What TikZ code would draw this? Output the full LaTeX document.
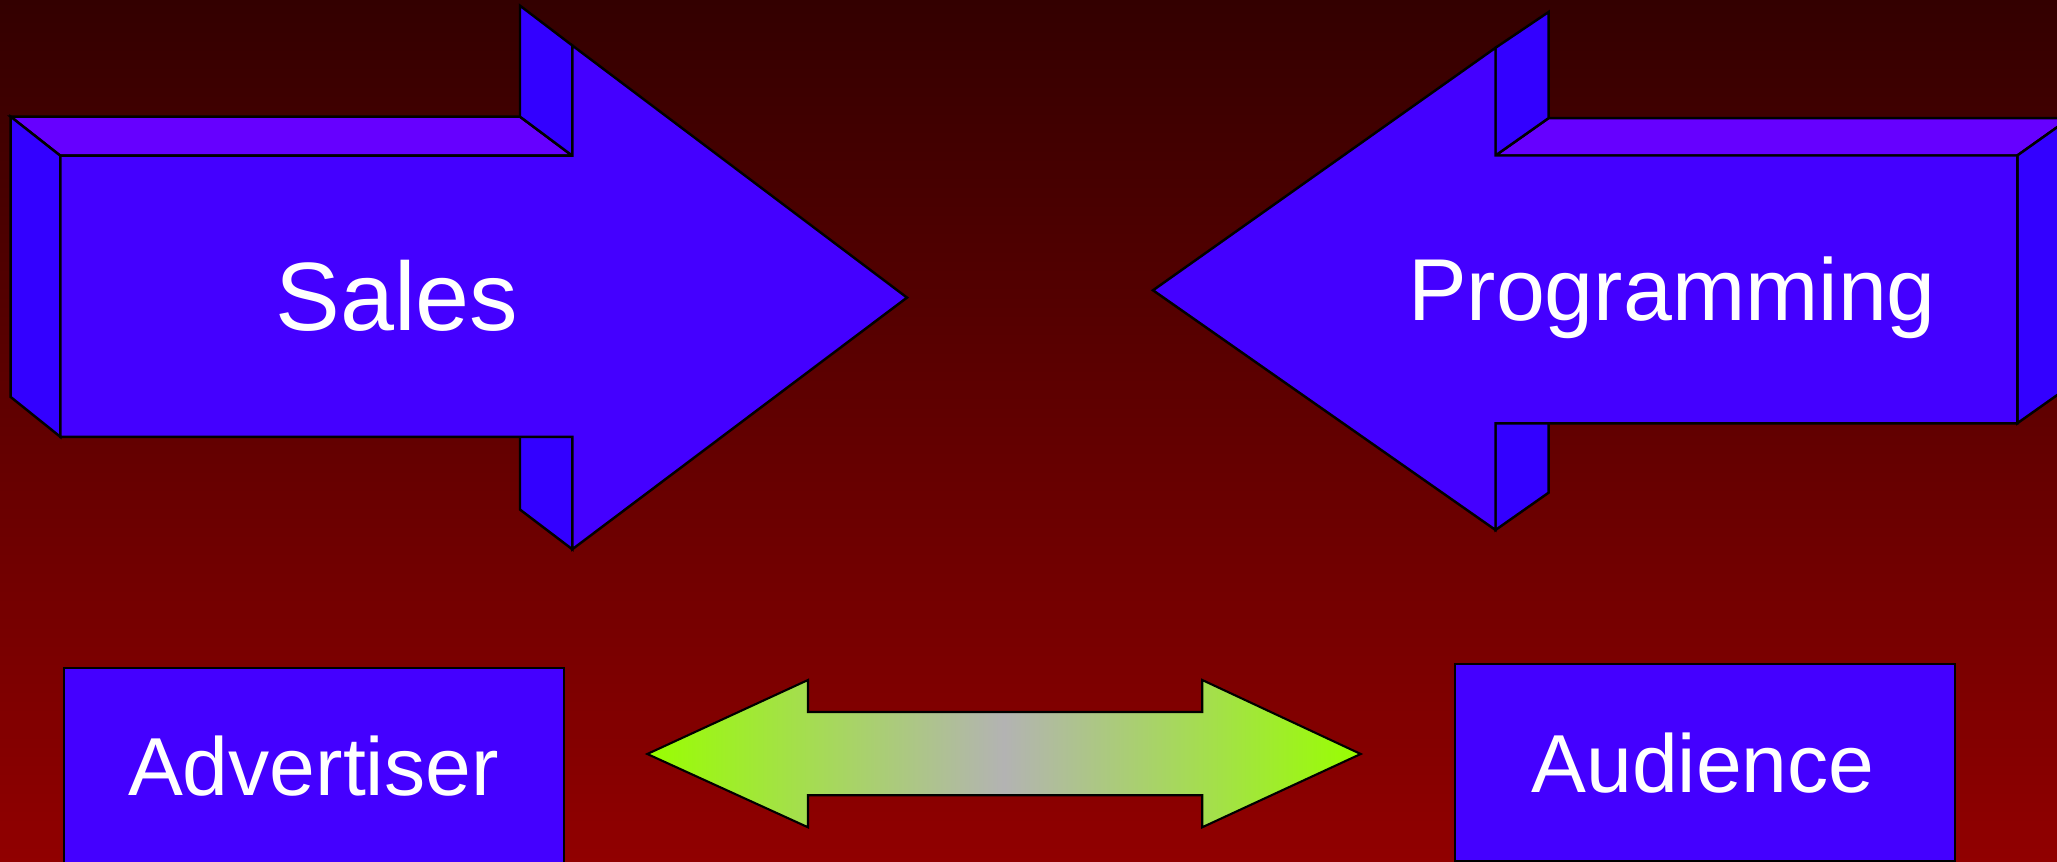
\documentclass[tikz,border=0pt]{standalone}
\usepackage{fontspec}
\setmainfont{Liberation Sans}

\definecolor{bgtop}{RGB}{51,0,0}
\definecolor{bgbottom}{RGB}{145,0,0}
\definecolor{facefront}{RGB}{68,0,255}
\definecolor{facetop}{RGB}{102,0,255}
\definecolor{faceside}{RGB}{51,0,255}
\definecolor{tipgreen}{RGB}{153,255,0}
\definecolor{midgray}{RGB}{179,179,179}

\begin{document}
\begin{tikzpicture}[x=0.01cm,y=-0.01cm,
  edge/.style={draw=black,line width=0.7pt,line join=miter},
  frontface/.style={edge,fill=facefront},
  topface/.style={edge,fill=facetop},
  sideface/.style={edge,fill=faceside},
  box/.style={draw=black,line width=0.6pt,fill=facefront,
    minimum width=5cm,minimum height=1.964cm,inner sep=0pt},
  label/.style={text=white,inner sep=0pt,anchor=base},
  bigfont/.style={font=\fontsize{27.6pt}{32pt}\selectfont},
  midfont/.style={font=\fontsize{25pt}{30pt}\selectfont},
  smallfont/.style={font=\fontsize{23.4pt}{28pt}\selectfont},
]
\useasboundingbox (0,0) rectangle (2057,862);
\clip (0,0) rectangle (2057,862);

% background
\shade[top color=bgtop,bottom color=bgbottom] (0,0) rectangle (2057,862);

% ---- Sales block arrow (pointing right, extruded up-left) ----
\path[topface]  (10.7,116.7) -- (520,116.7) -- (572.3,155.7) -- (60.3,155.7) -- cycle;
\path[sideface] (10.7,116.7) -- (60.3,155.7) -- (60.3,436.8) -- (10.7,397) -- cycle;
\path[sideface] (520,5.7) -- (572.3,45.5) -- (572.3,155.7) -- (520,116.7) -- cycle;
\path[sideface] (520,397.5) -- (572.3,436.8) -- (572.3,549.3) -- (520,509.6) -- cycle;
\path[frontface] (60.3,155.7) -- (572.3,155.7) -- (572.3,45.5) -- (907,297.6)
  -- (572.3,549.3) -- (572.3,436.8) -- (60.3,436.8) -- cycle;
\node[label,bigfont] (sales) at (397,330.7) {Sales};

% ---- Programming block arrow (pointing left, extruded up-right) ----
\path[topface]  (1495.5,155.5) -- (1548.6,118.1) -- (2070,118.1) -- (2017.3,155.5) -- cycle;
\path[sideface] (2017.3,155.5) -- (2070,118.1) -- (2070,386) -- (2017.3,423.3) -- cycle;
\path[sideface] (1495.5,47.8) -- (1548.6,12) -- (1548.6,118.1) -- (1495.5,155.5) -- cycle;
\path[sideface] (1495.5,423.3) -- (1548.6,385.9) -- (1548.6,492.7) -- (1495.5,530) -- cycle;
\path[frontface] (1153,290.3) -- (1495.5,47.8) -- (1495.5,155.5) -- (2017.3,155.5)
  -- (2017.3,423.3) -- (1495.5,423.3) -- (1495.5,530) -- cycle;
\node[label,midfont] (programming) at (1672,321) {Programming};

% ---- bottom row ----
\node[box] (advbox) at (313.8,766.5) {};
\node[label,smallfont] (advertiser) at (313.3,795.7) {Advertiser};

\node[box] (audbox) at (1704.8,762.5) {};
\node[label,smallfont] (audience) at (1703,792.3) {Audience};

% two-headed exchange arrow between the boxes
\shadedraw[draw=black,line width=0.6pt,line join=miter,
  left color=tipgreen,right color=tipgreen,middle color=midgray]
  (647.3,754) -- (808,680) -- (808,712) -- (1202.2,712) -- (1202.2,680)
  -- (1360.7,754) -- (1202.2,827.3) -- (1202.2,795.3) -- (808,795.3)
  -- (808,827.3) -- cycle;
\end{tikzpicture}
\end{document}
